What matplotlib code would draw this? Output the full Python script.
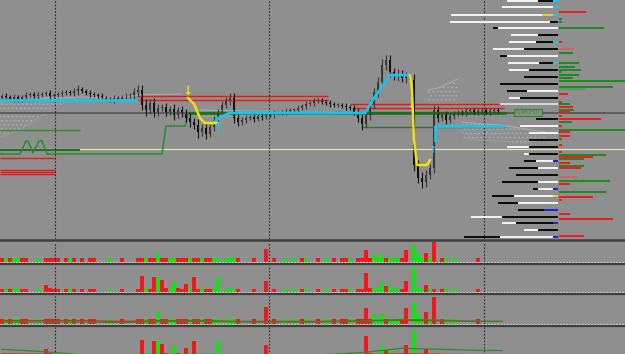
import matplotlib.pyplot as plt
from matplotlib.lines import Line2D

bg = '#8f8f8f'

# candle closes (price points), one per bar
closes = [142, 141, 139, 141, 138,
          141, 143, 144, 142, 143, 144, 145, 142, 143,
          144, 145, 146, 145, 147, 149,
          147, 145, 144, 143, 142,
          140, 139, 138, 140, 139, 141, 142, 143,
          146, 148,
          133, 128, 135, 126, 130,
          131, 126, 129, 123, 128, 125,
          120, 116, 113, 106, 110, 104, 111,
          118, 126, 133, 138, 140,
          120, 116, 118,
          120, 121, 119, 122, 121, 124, 123, 125,
          125, 126, 127, 128, 128, 130, 132,
          134, 135, 137, 138, 136,
          135, 134, 133, 133, 132, 131, 130,
          126, 120, 114,
          123, 133,
          146, 156, 173, 178,
          166, 162, 164, 160, 161, 158,
          73,
          60, 56, 63, 70,
          128,
          120, 123, 118, 122, 124,
          126, 125, 127, 128, 126, 127, 128, 126, 127, 128, 127]
wicks = [2, 3, 2, 3, 2,
         2, 3, 2, 2, 3, 2, 2, 3, 2,
         2, 3, 2, 2, 3, 4,
         2, 2, 3, 2, 2,
         3, 2, 2, 3, 2, 2, 3, 2,
         4, 5,
         5, 6, 4, 5, 4,
         3, 4, 3, 5, 3, 4,
         4, 5, 4, 6, 4, 5, 3,
         4, 3, 4, 3, 5,
         5, 4, 3,
         3, 2, 3, 2, 3, 2, 2, 3,
         2, 2, 3, 2, 2, 3, 2,
         3, 2, 3, 2, 2,
         2, 3, 2, 2, 2, 3, 2,
         3, 4, 6,
         4, 5,
         4, 5, 6, 5,
         5, 4, 5, 4, 5, 4,
         6,
         5, 6, 5, 4,
         5,
         4, 3, 4, 3, 3,
         2, 2, 3, 2, 2, 3, 2, 2, 3, 2, 2]
first_open = 140

# indicator lines (x in bars, y in price points)
cyan1_x = [-0.5, 33.5]
cyan1_y = [138, 138]
cyan2_x = [52.75, 54.5, 57, 90.75, 91.5, 93, 95, 97, 102]
cyan2_y = [115, 121, 125, 125, 130, 140, 151, 163, 163]
cyan3_x = [108.25, 108.25, 125.25]
cyan3_y = [98, 112, 112]
yel1_x = [46.5, 48.0, 48.75, 49.5, 50.75, 54]
yel1_y = [140, 134, 127, 120, 115, 115]
yel2_x = [102, 102.5, 103, 103.75, 106.25, 107]
yel2_y = [163, 148, 98, 73, 73, 78]

red_lvl = [142, 138.5, 134, 130, 80, 68, 66, 64]
red_from = [34, 34, 87, 88, -0.5, -0.5, -0.5, -0.5]
red_to = [81.5, 81.5, 125.5, 125.5, 13.25, 13.25, 13.25, 13.25]

step_x = [-0.5, 4.5, 6, 6.5, 7.75, 9.25, 10, 11.25, 40, 41, 45.75, 46.75, 125.75]
step_y = [84, 84, 97, 97, 85, 97, 97, 84, 84, 112, 112, 125.5, 125.5]
grn_lvl = [108, 88, 111]
grn_from = [-0.5, -0.5, 90]
grn_to = [19.5, 19.5, 125.75]
pivot_lvl = 125
pale_lvl = 89

cloud1_x = [-0.5, 4.5, 9.5, 14.5, 18.25]
cloud1_hi = [136, 138, 139, 140, 140]
cloud1_lo = [101, 108, 121, 133, 139]
cloud2_x = [49.5, 62, 74.5, 83.25]
cloud2_hi = [128, 127, 126, 126]
cloud2_lo = [121, 122, 122, 123]
cloud3_x = [106.5, 109, 114]
cloud3_hi = [148, 150, 159]
cloud3_lo = [130, 130, 130]
cloud4_x = [115, 119.5, 124.5, 129.5, 135.75]
cloud4_hi = [116, 114, 113, 110, 106]
cloud4_lo = [100, 98, 97, 95, 98]
senkou_x = [9.5, 19.5, 27, 34.5, 44.5]
senkou_y = [140, 141, 140, 143, 144]

breaks = [13.25, 66.75, 120.5]

# volume profile rows (right side)
prof_y = [237, 231, 223, 216, 210, 203, 196, 189, 182, 175, 168, 161, 154, 147, 140,
          134, 119, 112, 105, 98, 91, 84, 77, 70, 63, 56, 49, 42, 35, 28, 21, 15, 8, 1]
prof_outer = ['w', 'w', 'w', 'w', 'k', 'w', 'w', 'w', 'k', 'w', 'w', 'k', 'k', 'k', 'w',
              'l', 'k', 'w', 'w', 'k', 'w', 'w', 'k', 'k', 'k', 'k', 'k', 'k', 'k', 'k', 'w', 'w', 'w', 'k']
prof_outer_len = [31, 51, 91, 100, 5, 27, 27, 31, 7, 31, 20, 34, 58, 20, 11,
                  58, 22, 38, 29, 29, 22, 5, 12, 29, 42, 36, 5, 22, 20, 26, 31, 14, 14, 36]
prof_inner = ['k', 'k', 'y', 'k', 'w', 'k', 'k', 'k', 'w', 'k', 'k', 'k', 'k', 'w', 'k',
              'k', 'k', 'k', 'k', 'k', 'k', 'k', 'w', 'w', 'k', 'w', 'w', 'w', 'w', 'b', 'k', 'k', 'k', 'w']
prof_inner_len = [20, 5, 16, 8, 60, 20, 22, 34, 51, 19, 29, 0, 0, 31, 38,
                  0, 0, 0, 0, 0, 29, 29, 22, 20, 0, 20, 20, 44, 40, 14, 56, 42, 20, 58]
prof_accent = ['c', 'c', 'c', '', '', '', 'c', '', '', 'c', '', '', '', '', '',
               '', '', '', '', '', '', '', 'b', '', '', '', 'b', 'y', '', '', '', 'b', '', 'b']

side_y = [226, 219, 216, 210, 196, 189, 185, 175, 171, 168, 166, 163, 160, 157, 151, 149,
          144, 136, 134, 131, 128, 126, 122, 119, 116, 112, 108, 106, 102, 99, 93, 86,
          83, 81, 79, 75, 72, 70, 61, 57, 54, 46, 41, 38, 24, 19, 2]
side_col = ['r', 'g', 'g', 'g', 'r', 'R', 'g', 'g', 'g', 'g', 'g', 'g', 'g', 'g', 'g', 'G',
            'r', 'r', 'g', 'r', 'g', 'r', 'r', 'r', 'g', 'r', 'g', 'r', 'r', 'g', 'r', 'r',
            'g', 'r', 'g', 'r', 'g', 'r', 'R', 'g', 'r', 'g', 'r', 'r', 'r', 'r', 'r']
side_len = [27, 3, 3, 45, 3, 15, 14, 20, 16, 22, 3, 20, 14, 67, 54, 27,
            9, 3, 11, 14, 15, 11, 3, 42, 13, 3, 67, 11, 11, 3, 3, 3,
            47, 34, 25, 11, 25, 22, 18, 51, 11, 47, 34, 3, 11, 54, 25]

# sub-window volumes
vol_col = ("rgrggrr..g.rrrr.rgr.r.rr."
           "..g..r...rrgrrgrrggrrrgrr"
           "grrgg.gggr...r..r.r..g.g."
           "rg..r.g.r.rrg.rrrrgggrggg"
           "rr.gggrgr.rg.g.....r.....")
vol_a = [4, 4, 4, 4, 4, 4, 4, 0, 0, 4, 0, 4, 4, 4, 4, 0, 4, 4, 4, 0, 4, 0, 4, 4, 0,
         0, 0, 4, 0, 0, 4, 0, 0, 0, 4, 4, 4, 4, 4, 9, 4, 4, 4, 4, 4, 4, 4, 4, 4, 4,
         4, 4, 4, 4, 4, 0, 4, 4, 4, 4, 0, 0, 0, 4, 0, 0, 13, 0, 4, 0, 0, 4, 0, 4, 0,
         4, 4, 0, 0, 4, 0, 4, 0, 4, 0, 4, 4, 4, 0, 4, 4, 12, 4, 8, 4, 8, 4, 4, 4, 4,
         4, 12, 0, 17, 8, 4, 9, 4, 21, 0, 4, 4, 0, 4, 0, 0, 0, 0, 0, 4, 0, 0, 0, 0, 0]
vol_b = [3, 3, 3, 3, 3, 3, 3, 0, 0, 3, 0, 7, 4, 3, 3, 0, 3, 3, 3, 0, 3, 0, 3, 3, 0,
         0, 0, 3, 0, 0, 3, 0, 0, 0, 3, 16, 4, 3, 15, 15, 12, 4, 3, 10, 4, 3, 8, 3, 15, 3,
         3, 3, 3, 3, 15, 0, 3, 3, 3, 3, 0, 0, 0, 3, 0, 0, 11, 0, 3, 0, 0, 3, 0, 3, 0,
         3, 3, 0, 0, 3, 0, 3, 0, 3, 0, 3, 3, 3, 0, 3, 3, 19, 4, 4, 3, 10, 6, 6, 3, 3,
         3, 11, 0, 25, 4, 3, 7, 3, 3, 0, 3, 3, 0, 3, 0, 0, 0, 0, 0, 3, 0, 0, 0, 0, 0]
ma_x = [0, 10, 20, 30, 40, 50, 60, 70, 80, 90, 100, 110, 120, 125]
ma3_red = [2.5, 2.5, 2.5, 2.0, 2.5, 2.5, 2.0, 2.0, 2.0, 2.5, 3.0, 2.5, 2.0, 2.0]
ma3_grn = [1.5, 1.5, 1.5, 1.0, 2.0, 2.0, 1.5, 1.5, 1.5, 2.0, 3.5, 3.0, 2.0, 2.0]
ma4_grn = [7, 5, 2, 2, 2.5, 2.5, 2, 2, 2, 4, 8, 7, 6, 6]
ma4_red = [3, 2.5, 2, 1.5, 2, 2, 1.5, 1.5, 1.5, 2, 3, 2.5, 2, 2]

assert len(closes) == len(wicks) == len(vol_a) == len(vol_b) == len(vol_col) == 125

C = {'r': '#f01818', 'g': '#18e018', 'w': '#f2f2f2', 'k': '#0c0c0c', 'l': '#d6d6d6',
     'y': '#e8d020', 'c': '#18c8f0', 'b': '#2020d8', 'R': '#cc6060', 'G': '#5c9c5c'}
SIDE = {'r': '#ee1c1c', 'g': '#1f8a1f', 'R': '#c86464', 'G': '#5e9e5e'}

W, H = 625, 354
fig = plt.figure(figsize=(6.25, 3.54), dpi=100, facecolor=bg)
plt.rcParams['hatch.linewidth'] = 0.6

XL = (-0.5, 155.75)


def px_axes(top, bottom):
    a = fig.add_axes([0, (H - bottom) / H, 1, (bottom - top) / H])
    a.set_axis_off()
    a.set_xlim(*XL)
    return a


# ---- main price window
ax = px_axes(0, 239)
ax.set_ylim(-1, 238)

for cx, hi, lo in [(cloud1_x, cloud1_hi, cloud1_lo), (cloud2_x, cloud2_hi, cloud2_lo),
                   (cloud3_x, cloud3_hi, cloud3_lo), (cloud4_x, cloud4_hi, cloud4_lo)]:
    ax.fill_between(cx, lo, hi, facecolor='none', edgecolor='#b0b0b0', hatch='....', linewidth=0)
    ax.plot(cx, hi, color='#a9a9a9', lw=0.8)
    ax.plot(cx, lo, color='#a9a9a9', lw=0.6, ls=(0, (1, 1)))
ax.plot(senkou_x, senkou_y, color='#a9a9a9', lw=0.8)

ax.axhline(pivot_lvl, color='#585858', lw=1.3)
ax.axhline(pale_lvl, color='#e4e2b8', lw=0.9)
ax.hlines(red_lvl, red_from, red_to, color='#e81818', lw=1.0)
ax.hlines(grn_lvl[:1], grn_from[:1], grn_to[:1], color='#2f8f2f', lw=1.0)
ax.hlines(grn_lvl[1:2], grn_from[1:2], grn_to[1:2], color='#1e6e1e', lw=1.4)
ax.hlines(grn_lvl[2:], grn_from[2:], grn_to[2:], color='#2a7a2a', lw=1.0)
ax.plot(step_x, step_y, color='#228b22', lw=1.0)
ax.plot(step_x[-2:], step_y[-2:], color='#1a6a1a', lw=1.8)

for b in breaks:
    ax.axvline(b, color='#2a2a2a', lw=0.8, ls=(0, (1.5, 1.5)))

opens = [first_open] + closes[:-1]
for i, (o, c, w) in enumerate(zip(opens, closes, wicks)):
    top, bot = max(o, c), min(o, c)
    col = '#121212' if c < o else '#383838'
    ax.vlines(i, bot - w, top + w, color=col, lw=0.8)
    ax.bar(i, max(top - bot, 1.2), bottom=bot, width=0.7, color=col, lw=0)

ax.plot(cyan1_x, cyan1_y, color='#19c3ef', lw=2.0)
ax.plot(cyan2_x, cyan2_y, color='#19c3ef', lw=2.0)
ax.plot(cyan3_x, cyan3_y, color='#19c3ef', lw=2.0)
ax.plot(yel1_x, yel1_y, color='#f0e010', lw=1.8)
ax.plot(yel2_x, yel2_y, color='#f0e010', lw=1.8)
ax.text(46.5, 140, '\u2193', color='#f0e010', fontsize=9, fontweight='bold', ha='center', va='bottom')
ax.text(54, 116, '\u2191', color='#19c3ef', fontsize=9, fontweight='bold', ha='center', va='top')
ax.text(102.3, 128, '\u2193', color='#f0e010', fontsize=6, fontweight='bold', ha='center', va='bottom')
ax.text(107.5, 93, '\u2191', color='#19c3ef', fontsize=7, fontweight='bold', ha='center', va='top')
ax.text(131.5, 125.5, '0.96250', color='#2c8c2c', fontsize=4.2, ha='center', va='center',
        bbox=dict(boxstyle='square,pad=0.25', fc=bg, ec='#2c8c2c', lw=0.9))

# ---- volume profile, measured from its zero column
pf = fig.add_axes(ax.get_position(), sharey=ax)
pf.set_axis_off()
pf.set_xlim(-558, 67)
tot = [a + b for a, b in zip(prof_outer_len, prof_inner_len)]
pf.barh(prof_y, prof_outer_len, left=[-t for t in tot], height=2.4,
        color=[C[c] for c in prof_outer], lw=0)
pf.barh(prof_y, prof_inner_len, left=[-b for b in prof_inner_len], height=2.4,
        color=[C[c] for c in prof_inner], lw=0)
acc = [(y, C[a]) for y, a in zip(prof_y, prof_accent) if a]
pf.barh([y for y, _ in acc], [5] * len(acc), left=-5, height=2.4, color=[c for _, c in acc], lw=0)
pf.barh(side_y, side_len, left=0.5, height=2.0, color=[SIDE[c] for c in side_col], lw=0)

# ---- sub windows
panels = [(241.5, 262, 21, vol_a), (265, 292, 27, vol_b), (295.5, 324, 22, vol_a), (327, 357, 27.5, vol_b)]
subs = []
for top, base, ymax, vols in panels:
    a = px_axes(top, base)
    a.set_ylim(0, ymax)
    idx = [i for i, c in enumerate(vol_col) if c != '.']
    a.bar(idx, [vols[i] for i in idx], width=0.85, color=[C[vol_col[i]] for i in idx], lw=0)
    a.axhline(0, color='#dadada', lw=0.9, ls=(0, (1.5, 1)), clip_on=False)
    for b in breaks:
        a.axvline(b, color='#2a2a2a', lw=0.8, ls=(0, (1.5, 1.5)))
    subs.append(a)
subs[2].plot(ma_x, ma3_red, color='#b03a2a', lw=1.0)
subs[2].plot(ma_x, ma3_grn, color='#2e8b2e', lw=0.8)
subs[3].plot(ma_x, ma4_grn, color='#2e8b2e', lw=0.9)
subs[3].plot(ma_x, ma4_red, color='#b03a2a', lw=1.0)

# window borders
for yb, lw in [(240.2, 1.8), (263.8, 1.6), (294.2, 1.6), (325.8, 1.6)]:
    fig.add_artist(Line2D([0, 1], [(H - yb) / H] * 2, color='#3e3e3e', lw=lw))

fig.savefig('out.png', dpi=100, facecolor=bg)
